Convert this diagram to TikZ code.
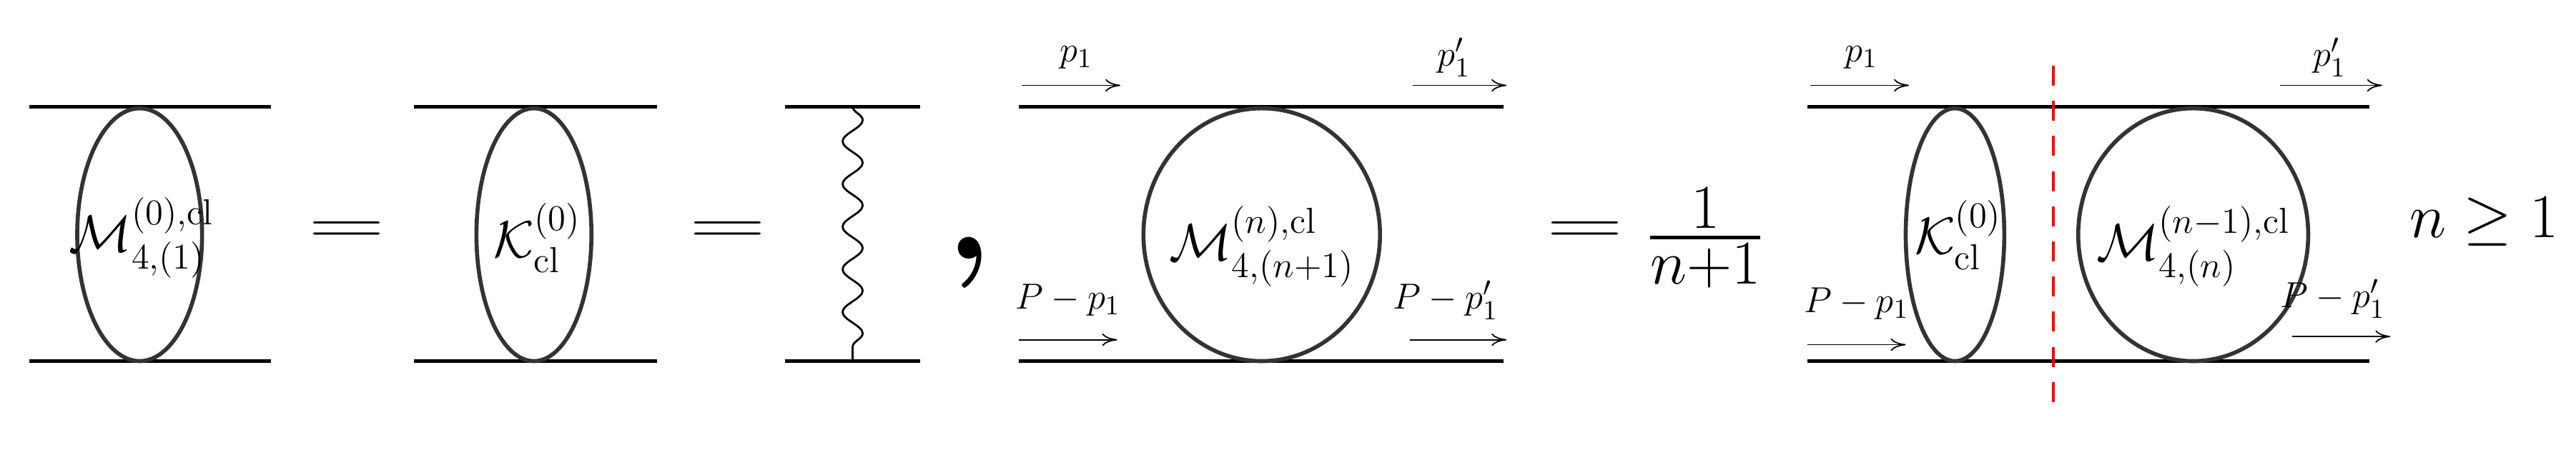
\documentclass[tikz,border=0pt]{standalone}
\usepackage{amsmath,amssymb}
\usepackage{tikz}
\usetikzlibrary{arrows.meta,decorations.pathmorphing}
\tikzset{>=Stealth}
\begin{document}
\begin{tikzpicture}[x=0.02298cm,y=-0.02298cm,
    leg/.style={line width=1.4pt},
    blob/.style={draw=black!80,line width=1.6pt,font=\fontsize{20}{24}\selectfont},
    big/.style={font=\fontsize{54}{60}\selectfont,xscale=1.7},
    mom/.style={font=\fontsize{15}{18}\selectfont},
    momarr/.style={->,line width=0.5pt,>={To[length=6pt,width=5pt]}}]
    \useasboundingbox (0,0) rectangle (1568,280);
    % first diagram
    \coordinate (a1) at (18,65); \coordinate (a2) at (165,65);
    \coordinate (a3) at (18,220); \coordinate (a4) at (165,220);
    \draw[leg] (a1) -- (a2) (a3) -- (a4);
    \draw[blob] (85,143) ellipse (38 and 77);
    \node[blob,draw=none] (M0lab) at (86,145) {$\mathcal{M}^{(0),\mathrm{cl}}_{4,(1)}$};
    \node[big] (eq1) at (211,142) {$=$};
    % second diagram
    \coordinate (b1) at (252,65); \coordinate (b2) at (400,65);
    \coordinate (b3) at (252,220); \coordinate (b4) at (400,220);
    \draw[leg] (b1) -- (b2) (b3) -- (b4);
    \draw[blob] (325,143) ellipse (35 and 77);
    \node[blob,draw=none] (K0) at (327,145) {$\mathcal{K}^{(0)}_{\mathrm{cl}}$};
    \node[big] (eq2) at (443,142) {$=$};
    % third diagram
    \coordinate (c1) at (478,65); \coordinate (c2) at (560,65);
    \coordinate (c3) at (478,220); \coordinate (c4) at (560,220);
    \coordinate (w1) at (519,65); \coordinate (w2) at (519,220);
    \draw[leg] (c1) -- (c2) (c3) -- (c4);
    \draw[line width=0.8pt,decorate,decoration={snake,segment length=17,amplitude=4}] (w1) -- (w2);
    \node[font=\fontsize{60}{66}\selectfont\bfseries] (comma) at (590,160) {,};
    % fourth diagram
    \coordinate (d1) at (620,65); \coordinate (d2) at (915,65);
    \coordinate (d3) at (620,220); \coordinate (d4) at (915,220);
    \draw[leg] (d1) -- (d2) (d3) -- (d4);
    \draw[blob] (768,143) circle (72 and 77);
    \node[blob,draw=none] (Mn) at (768,150) {$\mathcal{M}^{(n),\mathrm{cl}}_{4,(n+1)}$};
    \coordinate (p1s) at (622,52); \coordinate (p1e) at (682,52);
    \coordinate (p2s) at (860,52); \coordinate (p2e) at (917,52);
    \coordinate (p3s) at (620,207); \coordinate (p3e) at (680,207);
    \coordinate (p4s) at (858,207); \coordinate (p4e) at (917,207);
    \draw[momarr] (p1s) -- (p1e); \draw[momarr] (p2s) -- (p2e);
    \draw[momarr] (p3s) -- (p3e); \draw[momarr] (p4s) -- (p4e);
    \node[mom] (q1) at (655,35) {$p_1$};
    \node[mom] (q2) at (885,35) {$p_1'$};
    \node[mom] (q3) at (650,183) {$P-p_1$};
    \node[mom] (q4) at (880,183) {$P-p_1'$};
    \node[big] (eq3) at (965,142) {$=$};
    \node[font=\fontsize{40}{46}\selectfont] (frac) at (1038,145) {$\frac{1}{n+1}$};
    % fifth diagram
    \coordinate (e1) at (1100,65); \coordinate (e2) at (1442,65);
    \coordinate (e3) at (1100,220); \coordinate (e4) at (1442,220);
    \draw[leg] (e1) -- (e2) (e3) -- (e4);
    \draw[blob] (1190,143) ellipse (30 and 77);
    \node[blob,draw=none] (Kc) at (1192,143) {$\mathcal{K}^{(0)}_{\mathrm{cl}}$};
    \draw[blob] (1335,143) circle (70 and 77);
    \node[blob,draw=none] (Mm) at (1335,150) {$\mathcal{M}^{(n-1),\mathrm{cl}}_{4,(n)}$};
    \coordinate (cut1) at (1250,40); \coordinate (cut2) at (1250,248);
    \draw[red,line width=1.2pt,dash pattern=on 8pt off 6pt] (cut1) -- (cut2);
    \coordinate (r1s) at (1102,52); \coordinate (r1e) at (1162,52);
    \coordinate (r2s) at (1388,52); \coordinate (r2e) at (1450,52);
    \coordinate (r3s) at (1100,210); \coordinate (r3e) at (1160,210);
    \coordinate (r4s) at (1395,205); \coordinate (r4e) at (1455,205);
    \draw[momarr] (r1s) -- (r1e); \draw[momarr] (r2s) -- (r2e);
    \draw[momarr] (r3s) -- (r3e); \draw[momarr] (r4s) -- (r4e);
    \node[mom] (s1) at (1133,35) {$p_1$};
    \node[mom] (s2) at (1418,35) {$p_1'$};
    \node[mom] (s3) at (1130,185) {$P-p_1$};
    \node[mom] (s4) at (1420,182) {$P-p_1'$};
    \node[font=\fontsize{26}{30}\selectfont] (cond) at (1512,135) {$n\geq 1$};
\end{tikzpicture}
\end{document}
